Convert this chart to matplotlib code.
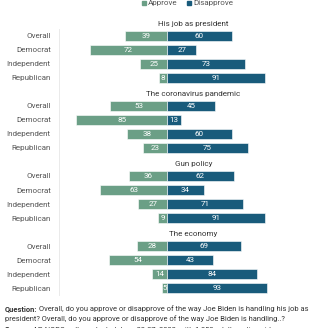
import numpy as np
import matplotlib.pyplot as plt
import matplotlib.transforms as mtransforms

plt.rcParams['font.family'] = ['Roboto', 'DejaVu Sans']

topics = ["His job as president", "The coronavirus pandemic", "Gun policy", "The economy"]
groups = ["Overall", "Democrat", "Independent", "Republican"]
approve = [[39, 72, 25, 8],
           [53, 85, 38, 23],
           [36, 63, 27, 9],
           [28, 54, 14, 5]]
disapprove = [[60, 27, 73, 91],
              [45, 13, 60, 75],
              [62, 34, 71, 91],
              [69, 43, 84, 93]]

green = "#6b9f86"
blue = "#195b7b"

fig = plt.figure(figsize=(3.28, 3.28), dpi=100)
ax = fig.add_axes([0.18, 0.1006, 0.82, 0.811])

yticks = []
ylabels = []
for g, topic in enumerate(topics):
    y = g * 5 + np.arange(4)
    a = np.array(approve[g])
    d = np.array(disapprove[g])
    ax.barh(y, -a, height=0.72, color=green, edgecolor="white", linewidth=0.4)
    ax.barh(y, d, height=0.72, color=blue, edgecolor="white", linewidth=0.4)
    for yi, av, dv in zip(y, a, d):
        ax.text(-av / 2, yi, str(av), color="white", ha="center", va="center", fontsize=5.8)
        ax.text(dv / 2, yi, str(dv), color="white", ha="center", va="center", fontsize=5.8)
    trans = mtransforms.blended_transform_factory(ax.transAxes, ax.transData)
    ax.text(0.5, g * 5 - 0.85, topic, transform=trans, ha="center", va="center",
            fontsize=5.8, color="#333333")
    yticks += list(y)
    ylabels += groups

ax.set_xlim(-101, 150)
ax.set_ylim(18.5, -0.5)
ax.set_yticks(yticks)
ax.set_yticklabels(ylabels, fontsize=5.8, color="#555555")
ax.tick_params(axis="y", length=0, pad=6)
ax.set_xticks([])
for s in ["top", "right", "bottom"]:
    ax.spines[s].set_visible(False)
ax.spines["left"].set_color("#e6e6e6")
ax.spines["left"].set_linewidth(0.6)

# legend, cut at the top edge
fig.patches.append(plt.Rectangle((142 / 328, 1 - 5 / 328), 4 / 328, 4 / 328,
                                 color=green, transform=fig.transFigure))
fig.text(148 / 328, 1 - 3 / 328, "Approve", fontsize=5.8, color="#555555", va="center")
fig.patches.append(plt.Rectangle((187 / 328, 1 - 5 / 328), 4 / 328, 4 / 328,
                                 color=blue, transform=fig.transFigure))
fig.text(193 / 328, 1 - 3 / 328, "Disapprove", fontsize=5.8, color="#555555", va="center")

# notes at the bottom: bold lead word, then plain text right after it
renderer = fig.canvas.get_renderer()
def note(y, lead, rest):
    t = fig.text(5 / 328, 1 - y / 328, lead, fontsize=5.45, weight="bold",
                 color="#333333", va="center")
    x1 = t.get_window_extent(renderer).x1 / fig.bbox.width
    fig.text(x1 + 1.5 / 328, 1 - y / 328, rest, fontsize=5.45, color="#333333", va="center")

note(309, "Question:", "Overall, do you approve or disapprove of the way Joe Biden is handling his job as")
fig.text(5 / 328, 1 - 319 / 328,
         "president? Overall, do you approve or disapprove of the way Joe Biden is handling..?",
         fontsize=5.45, color="#333333", va="center")
note(330, "Source:", "AP-NORC poll conducted June 23-27, 2022, with 1,053 adults nationwide")

fig.savefig("out.png", dpi=100)
